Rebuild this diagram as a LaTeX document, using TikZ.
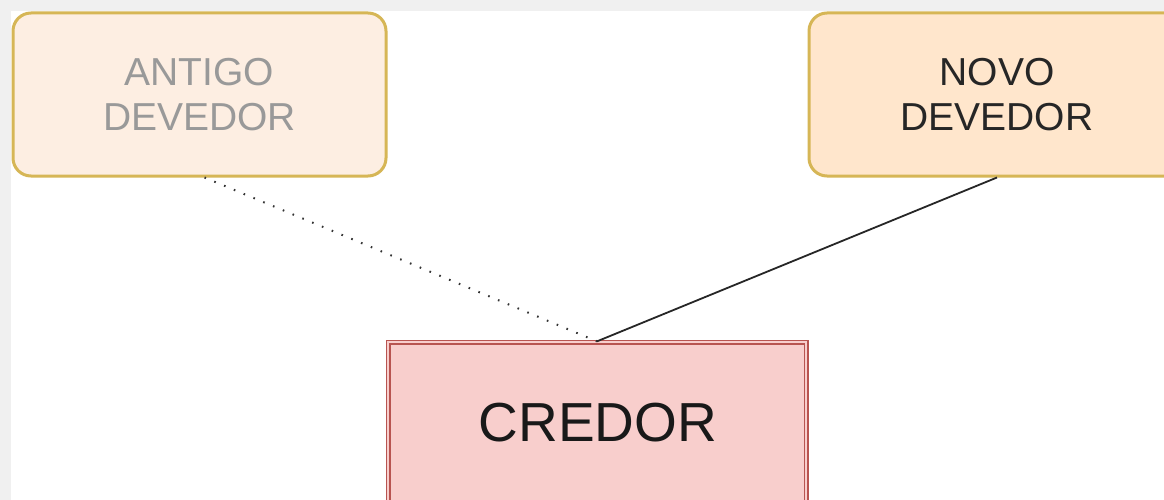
\documentclass[tikz,border=0pt]{standalone}
\usepackage{fontspec}
\setmainfont{Liberation Sans}
\definecolor{bggray}{HTML}{F0F0F0}
\definecolor{debtline}{HTML}{D6B656}
\definecolor{debtfill}{HTML}{FFE6CC}
\definecolor{oldfill}{HTML}{FDEEE2}
\definecolor{credline}{HTML}{B85450}
\definecolor{credfill}{HTML}{F8CECC}
\tikzset{
  debtbox/.style={draw=debtline, line width=3pt, rounded corners=18pt, align=center,
     font=\fontsize{39}{45}\selectfont, inner sep=0pt, minimum height=163pt},
  credbox/.style={draw=credline, double=credfill, double distance=2.4pt, line width=1.3pt,
     fill=credfill, font=\fontsize{55}{60}\selectfont, inner sep=0pt,
     minimum width=418pt, minimum height=180pt},
  oldlink/.style={black!80, line width=2pt, dash pattern=on 1.6pt off 9pt},
  newlink/.style={black!85, line width=1.8pt},
}
\begin{document}
\begin{tikzpicture}[x=1pt,y=-1pt]
\useasboundingbox (0,0) rectangle (1164,500);
\fill[bggray] (0,0) rectangle (1164,500);
\fill[white] (11,11) rectangle (1164,500);
\begin{scope}
\clip (0,0) rectangle (1164,500);
\node[debtbox, fill=oldfill, text=black!40, minimum width=373pt] (antigo) at (199.5,94.5) {ANTIGO\\DEVEDOR};
\node[debtbox, fill=debtfill, text=black!85, minimum width=376pt] (novo) at (997,94.5) {NOVO\\DEVEDOR};
\node[credbox, text=black!90] (credor) at (597,432) {};
\node[text=black!90, font=\fontsize{55}{60}\selectfont] (credtext) at (598,423) {CREDOR};
\draw[oldlink] (antigo.south) ++(5,0) -- (credor.north);
\draw[newlink] (novo.south) -- (credor.north);
\end{scope}
\end{tikzpicture}
\end{document}
